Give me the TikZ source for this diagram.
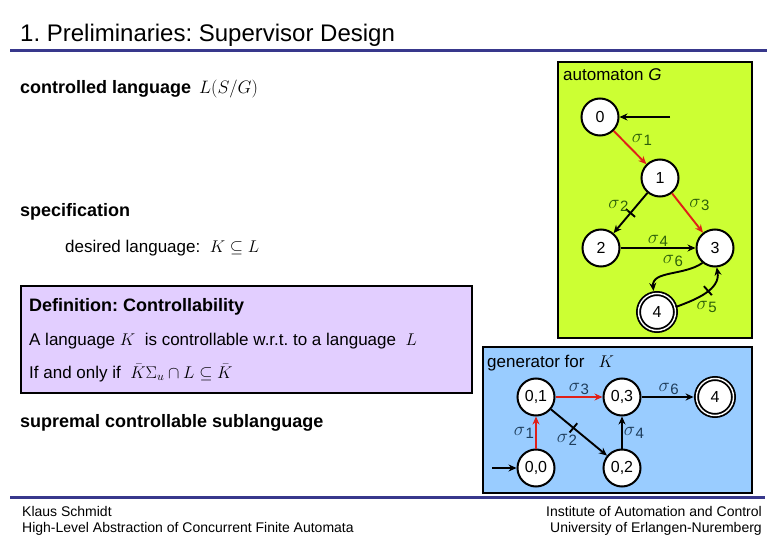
\documentclass[tikz,border=0pt]{standalone}
\usepackage{fix-cm}
\usepackage{amsmath}
\usepackage{amssymb}
\usepackage{fontspec}
\setmainfont{Liberation Sans}
\usepackage{tikz}
\usetikzlibrary{arrows.meta,positioning}

\definecolor{titleblue}{RGB}{56,56,140}
\definecolor{gfill}{RGB}{204,255,51}
\definecolor{kfill}{RGB}{153,204,255}
\definecolor{deffill}{RGB}{226,206,255}
\definecolor{ctrlred}{RGB}{224,32,24}
\definecolor{glab}{RGB}{45,95,10}
\definecolor{klab}{RGB}{30,60,90}

% event label: sigma with its index set low
\newcommand{\sg}[1]{$\sigma$\kern0.5pt\raisebox{-3pt}{\fontsize{15}{15}\selectfont #1}}

\tikzset{
  state/.style={circle, draw, line width=2pt, fill=white, minimum size=37pt, inner sep=0pt, font=\fontsize{16}{16}\selectfont},
  marked/.style={state, line width=1.8pt, double, double distance=1.4pt},
  trans/.style={-{Stealth[length=8pt,width=7pt]}, line width=1.9pt},
  ctrl/.style={trans, draw=ctrlred},
  uc/.style={sloped, draw, inner sep=0pt, minimum width=0pt, minimum height=12pt, line width=1.9pt},
  gsig/.style={font=\fontsize{19}{19}\selectfont, text=glab, inner sep=1pt},
  ksig/.style={font=\fontsize{19}{19}\selectfont, text=klab, inner sep=1pt},
  txt/.style={anchor=base west, inner sep=0pt, font=\fontsize{17}{20}\selectfont},
  headtxt/.style={txt, font=\fontsize{18}{20}\selectfont\bfseries},
  foot/.style={inner sep=0pt, font=\fontsize{14}{16}\selectfont},
  panel/.style={draw, line width=2.8pt}
}

\begin{document}
\frenchspacing
\begin{tikzpicture}[x=1pt, y=-1pt]
    \useasboundingbox (0,0) rectangle (780,540);

    % title and rules
    \node[txt, font=\fontsize{24}{28}\selectfont] (title) at (20,42) {1. Preliminaries: Supervisor Design};
    \draw[titleblue, line width=3pt] (10,51) -- (767,51);
    \draw[titleblue, line width=3pt] (10,497) -- (765,497);

    % panels
    \filldraw[panel, fill=gfill] (558,62) rectangle (752,338);
    \filldraw[panel, fill=deffill] (21,286) rectangle (472,393);
    \filldraw[panel, fill=kfill] (483,347) rectangle (752,493);

    % left texts
    \node[headtxt] (ctrllang) at (20,94) {controlled language\hspace{8pt}\mdseries$L(S/G)$};
    \node[headtxt] (spec) at (20,217) {specification};
    \node[txt] (desired) at (65,253) {desired language:\ \ $K\subseteq L$};
    \node[headtxt] (defhead) at (29,312) {Definition: Controllability};
    \node[txt] (defline1) at (29,346) {A language $K$\ \ is controllable w.r.t. to a language\ \ $L$};
    \node[txt] (defline2) at (29,378) {If and only if\ \ $\bar{K}\Sigma_u\cap L\subseteq\bar{K}$};
    \node[headtxt] (supc) at (20,427) {supremal controllable sublanguage};

    % automaton G
    \node[txt] (gtitle) at (563,81) {automaton \textit{G}};
    \node[state] (g0) at (600,117) {0};
    \node[state] (g1) at (660,178) {1};
    \node[state] (g2) at (601,248) {2};
    \node[state] (g3) at (715,248) {3};
    \node[marked] (g4) at (657,312) {4};
    \coordinate (g0in) at (670,117);

    \draw[trans] (g0in) -- (g0);
    \draw[ctrl] (g0) -- node[gsig, above right] {\sg{1}} (g1);
    \draw[trans] (g1) -- node[uc] {} node[gsig, above left] {\sg{2}} (g2);
    \draw[ctrl] (g1) -- node[gsig, above right] {\sg{3}} (g3);
    \draw[trans] (g2) -- node[gsig, above] {\sg{4}} (g3);
    \draw[trans, shorten >=2pt] (g3.230) to[out=215, in=95] node[gsig, pos=0.25, above left=1pt and 2pt] {\sg{6}} (g4.100);
    \draw[trans] (g4.15) to[out=20, in=280] node[uc, pos=0.55] {} node[gsig, pos=0.3, below right] {\sg{5}} (g3.275);

    % generator for K
    \node[txt] (ktitle) at (487,367) {generator for\ \ \ $K$};
    \node[state] (k01) at (536,397) {0,1};
    \node[state] (k03) at (622,397) {0,3};
    \node[marked] (k4) at (715,397) {4};
    \node[state] (k00) at (536,468) {0,0};
    \node[state] (k02) at (622,468) {0,2};
    \coordinate (k00in) at (492,468);

    \draw[trans] (k00in) -- (k00);
    \draw[ctrl] (k00) -- node[ksig, left] {\sg{1}} (k01);
    \draw[ctrl] (k01) -- node[ksig, above] {\sg{3}} (k03);
    \draw[trans] (k01) -- node[uc, pos=0.4] {} node[ksig, below left, pos=0.5] {\sg{2}} (k02);
    \draw[trans] (k02) -- node[ksig, right] {\sg{4}} (k03);
    \draw[trans, shorten >=2pt] (k03) -- node[ksig, above] {\sg{6}} (k4);

    % footer
    \node[foot, anchor=base west] (author) at (22,516) {Klaus Schmidt};
    \node[foot, anchor=base west] (talk) at (22,532) {High-Level Abstraction of Concurrent Finite Automata};
    \node[foot, anchor=base east] (inst) at (762,516) {Institute of Automation and Control};
    \node[foot, anchor=base east] (univ) at (762,532) {University of Erlangen-Nuremberg};
\end{tikzpicture}
\end{document}
